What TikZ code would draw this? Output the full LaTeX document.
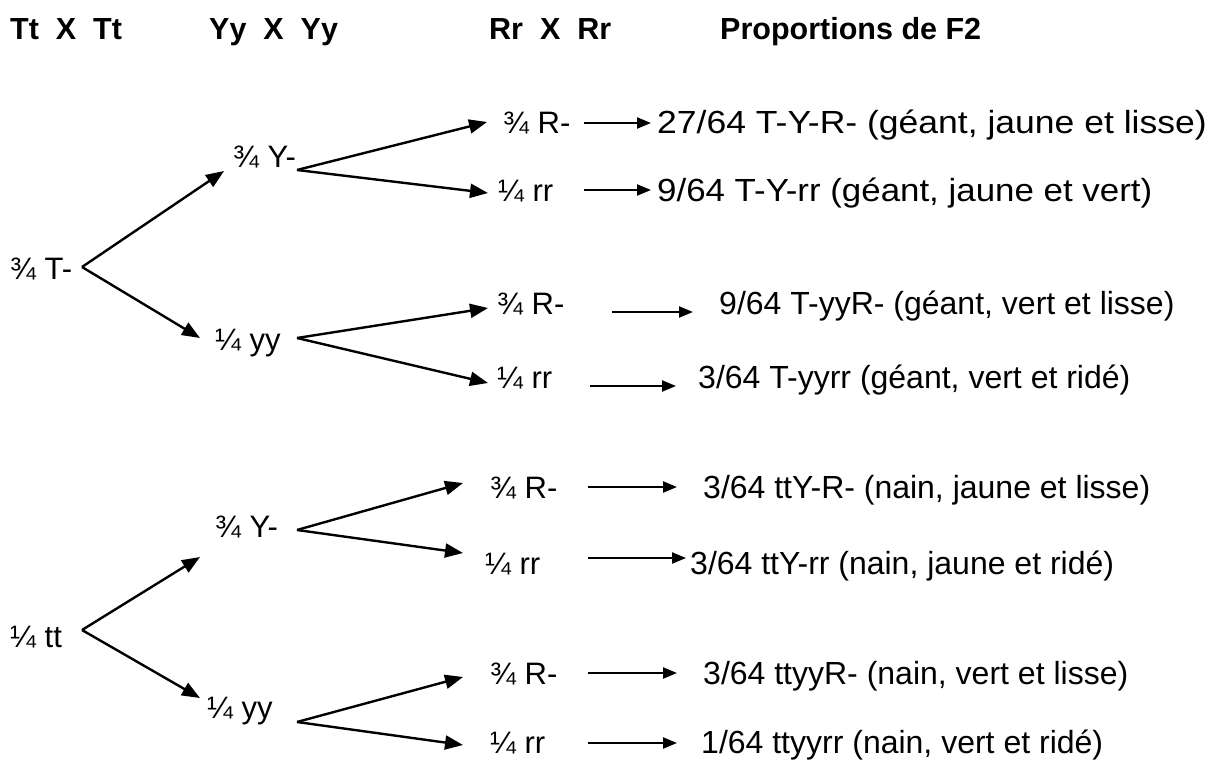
\documentclass[tikz,border=0pt]{standalone}
\usepackage{fontspec}
\setmainfont{Liberation Sans}
\usetikzlibrary{arrows.meta}
\begin{document}
\begin{tikzpicture}[x=1pt,y=-1pt,
  lbl/.style={anchor=base west, inner sep=0pt, font=\fontsize{31}{37}\selectfont},
  res/.style={anchor=base west, inner sep=0pt, font=\fontsize{32}{38}\selectfont},
  hdr/.style={anchor=base west, inner sep=0pt, font=\fontsize{30.5}{37}\selectfont\bfseries},
  br/.style={line width=2.4pt, -{Triangle[length=18pt,width=14pt]}},
  hr/.style={line width=2.2pt, -{Triangle[length=14pt,width=11pt]}}]
\useasboundingbox (0,0) rectangle (1231,762);
% headers
\node[hdr] (h1) at (10,40) {Tt\ \ X\ \ Tt};
\node[hdr] (h2) at (209,40) {Yy\ \ X\ \ Yy};
\node[hdr] (h3) at (489,40) {Rr\ \ X\ \ Rr};
\node[hdr] (h4) at (720,40) {Proportions de F2};
% upper tree
\node[lbl] (T) at (10,279) {¾ T-};
\coordinate (vT) at (82,267);
\node[lbl] (Y1) at (233,168) {¾ Y-};
\coordinate (vY1) at (297,170);
\coordinate (tY1) at (224,171);
\node[lbl] (y1) at (215,350) {¼ yy};
\coordinate (vy1) at (297,338);
\coordinate (ty1) at (200,338);
\draw[br] (vT) -- (tY1);
\draw[br] (vT) -- (ty1);
% rows upper
\node[lbl] (r1) at (503,134) {¾ R-};
\coordinate (t1) at (487,122);
\node[lbl] (r2) at (498,201) {¼ rr};
\coordinate (t2) at (488,193);
\node[lbl] (r3) at (497,314) {¾ R-};
\coordinate (t3) at (488,308);
\node[lbl] (r4) at (497,388) {¼ rr};
\coordinate (t4) at (488,383);
\draw[br] (vY1) -- (t1);
\draw[br] (vY1) -- (t2);
\draw[br] (vy1) -- (t3);
\draw[br] (vy1) -- (t4);
\node[res] (p1) at (657,134) {\scalebox{1.11}[1]{27/64 T-Y-R- (géant, jaune et lisse)}};
\node[res] (p2) at (657,201) {\scalebox{1.09}[1]{9/64 T-Y-rr (géant, jaune et vert)}};
\node[res] (p3) at (719,314) {9/64 T-yyR- (géant, vert et lisse)};
\node[res] (p4) at (698,388) {3/64 T-yyrr (géant, vert et ridé)};
\coordinate (a1) at (584,123); \coordinate (b1) at (651,123);
\coordinate (a2) at (584,190); \coordinate (b2) at (651,190);
\coordinate (a3) at (612,312); \coordinate (b3) at (693,312);
\coordinate (a4) at (590,386); \coordinate (b4) at (676,386);
\draw[hr] (a1) -- (b1);
\draw[hr] (a2) -- (b2);
\draw[hr] (a3) -- (b3);
\draw[hr] (a4) -- (b4);
% lower tree
\node[lbl] (t) at (10,647) {¼ tt};
\coordinate (vt) at (82,630);
\node[lbl] (Y2) at (215,537) {¾ Y-};
\coordinate (vY2) at (297,530);
\coordinate (tY2) at (200,557);
\node[lbl] (y2) at (207,718) {¼ yy};
\coordinate (vy2) at (297,722);
\coordinate (ty2) at (200,698);
\draw[br] (vt) -- (tY2);
\draw[br] (vt) -- (ty2);
\node[lbl] (r5) at (490,498) {¾ R-};
\coordinate (t5) at (463,483);
\node[lbl] (r6) at (485,574) {¼ rr};
\coordinate (t6) at (463,553);
\node[lbl] (r7) at (490,684) {¾ R-};
\coordinate (t7) at (463,677);
\node[lbl] (r8) at (490,753) {¼ rr};
\coordinate (t8) at (463,745);
\draw[br] (vY2) -- (t5);
\draw[br] (vY2) -- (t6);
\draw[br] (vy2) -- (t7);
\draw[br] (vy2) -- (t8);
\node[res] (p5) at (703,498) {3/64 ttY-R- (nain, jaune et lisse)};
\node[res] (p6) at (690,574) {3/64 ttY-rr (nain, jaune et ridé)};
\node[res] (p7) at (703,684) {3/64 ttyyR- (nain, vert et lisse)};
\node[res] (p8) at (701,753) {1/64 ttyyrr (nain, vert et ridé)};
\coordinate (a5) at (588,487); \coordinate (b5) at (677,487);
\coordinate (a6) at (588,558); \coordinate (b6) at (686,558);
\coordinate (a7) at (588,673); \coordinate (b7) at (677,673);
\coordinate (a8) at (588,743); \coordinate (b8) at (677,743);
\draw[hr] (a5) -- (b5);
\draw[hr] (a6) -- (b6);
\draw[hr] (a7) -- (b7);
\draw[hr] (a8) -- (b8);
\end{tikzpicture}
\end{document}
